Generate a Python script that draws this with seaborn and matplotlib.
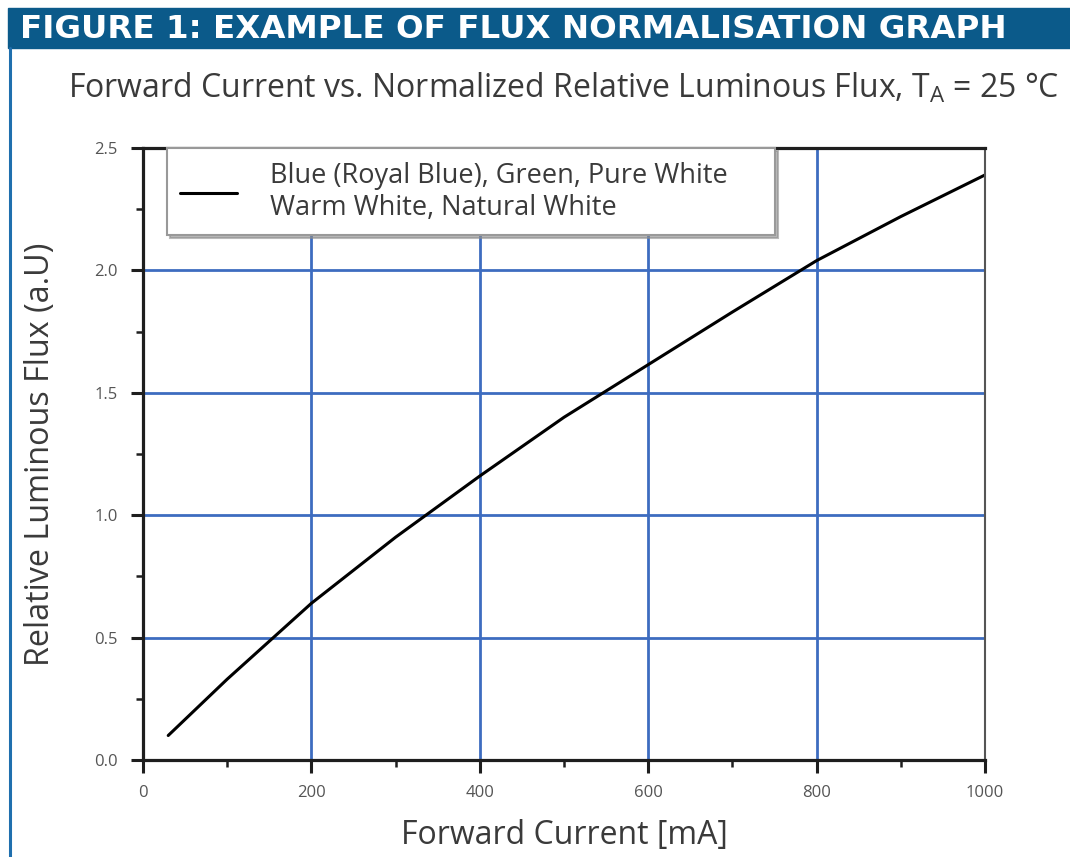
import matplotlib
matplotlib.use("Agg")
import matplotlib.pyplot as plt
from matplotlib.patches import Rectangle
from matplotlib.lines import Line2D
from matplotlib.ticker import MultipleLocator
import seaborn as sns

# values
current_ma = [30, 100, 200, 300, 400, 500, 600, 700, 800, 900, 1000]
rel_flux = [0.10, 0.33, 0.64, 0.91, 1.16, 1.40, 1.615, 1.83, 2.04, 2.22, 2.39]
series_label = "Blue (Royal Blue), Green, Pure White\nWarm White, Natural White"

banner_text = "FIGURE 1: EXAMPLE OF FLUX NORMALISATION GRAPH"
title = "Forward Current vs. Normalized Relative Luminous Flux, T$_\\mathregular{A}$ = 25 °C"
xlab = "Forward Current [mA]"
ylab = "Relative Luminous Flux (a.U)"

sns.set_style("white")
plt.rcParams['font.family'] = ['Open Sans', 'DejaVu Sans']
plt.rcParams['mathtext.fontset'] = 'custom'
plt.rcParams['mathtext.rm'] = 'Open Sans'

grid_blue = '#3d6cc0'
text_grey = '#3a3a3a'

fig = plt.figure(figsize=(10.7, 8.57), dpi=100)
ax = fig.add_axes([0.1336, 0.1132, 0.787, 0.7141])

sns.lineplot(x=current_ma, y=rel_flux, color='black', lw=2.2, ax=ax,
             label=series_label)

ax.set_xlim(0, 1000)
ax.set_ylim(0, 2.5)
ax.xaxis.set_major_locator(MultipleLocator(200))
ax.xaxis.set_minor_locator(MultipleLocator(100))
ax.yaxis.set_major_locator(MultipleLocator(0.5))
ax.yaxis.set_minor_locator(MultipleLocator(0.25))
ax.set_yticklabels([f"{v:.1f}" for v in ax.get_yticks()])

ax.grid(True, which='major', color=grid_blue, lw=2.0)
ax.set_axisbelow(True)

for s in ['left', 'bottom', 'top']:
    ax.spines[s].set_color('#1e1e1e')
    ax.spines[s].set_linewidth(2.3)
ax.spines['right'].set_color('#555555')
ax.spines['right'].set_linewidth(1.5)

ax.tick_params(which='major', direction='out', length=9, width=2.2,
               color='#1e1e1e', labelsize=12, labelcolor='#555555', pad=9,
               bottom=True, left=True)
ax.tick_params(which='minor', direction='out', length=5, width=1.8,
               color='#1e1e1e', bottom=True, left=True)

ax.set_xlabel(xlab, fontsize=23, color=text_grey, labelpad=13)
ax.set_ylabel(ylab, fontsize=23.3, color=text_grey, labelpad=27)

leg = ax.legend(loc='upper left', bbox_to_anchor=(0.0285, 0.0, 0.722, 1.0),
                mode='expand', borderaxespad=0,
                frameon=True, fancybox=False, shadow={'color': '0.55', 'alpha': 0.6},
                fontsize=19.5, handlelength=2.1, handletextpad=1.2,
                borderpad=0.5, labelspacing=0.2, labelcolor=text_grey)
leg.get_frame().set_edgecolor('#999999')
leg.get_frame().set_linewidth(1.5)
leg.get_frame().set_alpha(1)

fig.text(0.0636, 0.897, title, fontsize=23, color=text_grey, va='center', ha='left')

# banner strip and frame line
fig.patches.append(Rectangle((8 / 1070, 1 - 48 / 857), 1, 40 / 857,
                             transform=fig.transFigure, color='#0b5a8a', zorder=0))
fig.add_artist(Line2D([10 / 1070, 10 / 1070], [0, 1 - 48 / 857],
                      transform=fig.transFigure, color='#1f6fae', lw=2.2))
fig.text(20 / 1070, 1 - 29 / 857, banner_text, fontsize=23.4, color='white',
         fontweight='bold', family=['DejaVu Sans'],
         va='center', ha='left')

fig.savefig("out.png", dpi=100)
